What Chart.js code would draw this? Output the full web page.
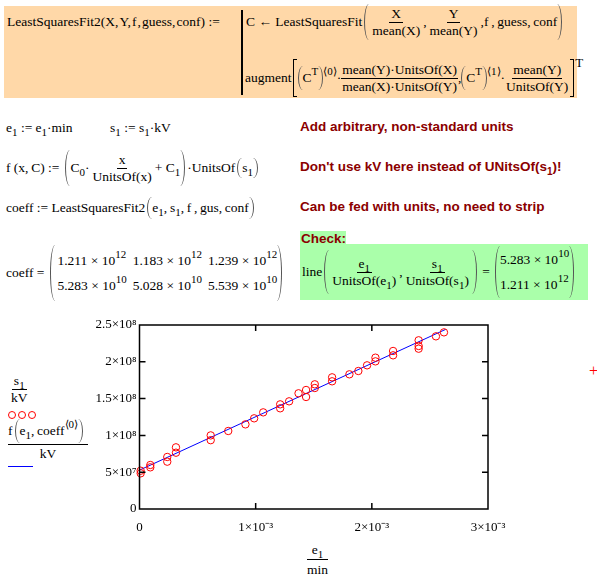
<!DOCTYPE html>
<html>
<head>
<meta charset="utf-8">
<script src="https://cdn.jsdelivr.net/npm/chart.js@4.4.0/dist/chart.umd.min.js"></script>
<style>
  body { margin: 0; width: 597px; height: 582px; background: #fff; position: relative; overflow: hidden;
         font-family: "Liberation Serif", "Times New Roman", serif; font-size: 13.5px; color: #000; }
  .a { position: absolute; white-space: nowrap; line-height: 1; }
  .row { display: flex; align-items: center; }
  .fr { display: inline-flex; flex-direction: column; align-items: center; margin: 0 1px; }
  .fr > span { padding: 0 2px; line-height: 16px; }
  .fr > span:first-child { border-bottom: 1px solid #000; }
  .lp, .rp, .lb, .rb { display: inline-block; width: 5px; box-sizing: border-box; flex: none; }
  .lp { border-left: 1.2px solid #555; border-radius: 100% 0 0 100% / 50% 0 0 50%; margin-left: 2px; }
  .rp { border-right: 1.2px solid #555; border-radius: 0 100% 100% 0 / 0 50% 50% 0; margin-right: 2px; }
  .lb { border: 1.2px solid #000; border-right: none; width: 4px; margin: 0 1px; }
  .rb { border: 1.2px solid #000; border-left: none; width: 4px; margin: 0 1px; }
  .sb { font-size: 11px; position: relative; top: 4px; }
  .sp { font-size: 11px; position: relative; top: -7px; }
  .note { font-family: "Liberation Sans", Arial, sans-serif; font-weight: bold; color: #8b0000; font-size: 13.5px; }
  .mx { display: grid; row-gap: 12px; column-gap: 6px; }
  .ci { display: inline-block; width: 6px; height: 6px; border: 1px solid #f00; border-radius: 50%; margin-right: 2px; }
  .tight .fr { margin: 0; }
  .tight .fr > span { padding: 0 1px; }
</style>
</head>
<body>

<!-- program block -->
<div class="a" style="left:4px;top:6px;width:573px;height:92px;background:#ffd8a8"></div>
<div class="a" style="left:241px;top:10px;width:2px;height:85px;background:#000"></div>
<div class="a" style="left:7px;top:15px">LeastSquaresFit2(X,&hairsp;Y,&hairsp;f&hairsp;,&hairsp;guess,&hairsp;conf) :=</div>
<div class="a row" style="left:246px;top:3px;height:38px">
  C ← LeastSquaresFit<span class="lp" style="height:36px"></span><span class="fr"><span>X</span><span>mean(X)</span></span>,<span class="fr"><span>Y</span><span>mean(Y)</span></span>,f&thinsp;,&thinsp;guess,&thinsp;conf<span class="rp" style="height:36px"></span>
</div>
<div class="a row tight" style="left:245px;top:58px;height:40px">
  augment<span class="lb" style="height:38px"></span><span class="lp" style="height:24px;margin-left:0"></span>C<span class="sp">T</span><span class="rp" style="height:24px;margin-right:0"></span><span class="sp">⟨0⟩</span>·<span class="fr"><span>mean(Y)·UnitsOf(X)</span><span>mean(X)·UnitsOf(Y)</span></span>,<span class="lp" style="height:24px;margin-left:0"></span>C<span class="sp">T</span><span class="rp" style="height:24px;margin-right:0"></span><span class="sp">⟨1⟩</span>·<span class="fr"><span>mean(Y)</span><span>UnitsOf(Y)</span></span><span class="rb" style="height:38px"></span><span class="sp" style="top:-16px;font-size:13px">T</span>
</div>

<!-- definitions -->
<div class="a" style="left:6px;top:121px">e<span class="sb">1</span> := e<span class="sb">1</span>·min</div>
<div class="a" style="left:110px;top:121px">s<span class="sb">1</span> := s<span class="sb">1</span>·kV</div>
<div class="a note" style="left:300px;top:120px">Add arbitrary, non-standard units</div>

<div class="a row" style="left:6px;top:149px;height:38px">
  f (x,&thinsp;C) :=<span class="lp" style="height:36px;margin-left:6px"></span>C<span class="sb">0</span>·<span class="fr"><span>x</span><span>UnitsOf(x)</span></span>+ C<span class="sb">1</span><span class="rp" style="height:36px"></span>·UnitsOf<span class="lp" style="height:20px"></span>s<span class="sb">1</span><span class="rp" style="height:20px"></span>
</div>
<div class="a note" style="left:300px;top:160px">Don't use kV here instead of UNitsOf(s<span class="sb" style="font-size:10px">1</span>)!</div>

<div class="a row" style="left:6px;top:196px;height:24px">
  coeff := LeastSquaresFit2<span class="lp" style="height:22px"></span>e<span class="sb">1</span>,&thinsp;s<span class="sb">1</span>,&thinsp;f&thinsp;,&thinsp;gus,&thinsp;conf<span class="rp" style="height:22px"></span>
</div>
<div class="a note" style="left:300px;top:200px">Can be fed with units, no need to strip</div>

<div class="a row" style="left:6px;top:244px;height:58px">
  coeff =<span class="lp" style="height:56px;margin-left:6px"></span>
  <div class="mx" style="grid-template-columns:auto auto auto;margin-left:2px">
    <span>1.211 × 10<span class="sp">12</span></span><span>1.183 × 10<span class="sp">12</span></span><span>1.239 × 10<span class="sp">12</span></span>
    <span>5.283 × 10<span class="sp">10</span></span><span>5.028 × 10<span class="sp">10</span></span><span>5.539 × 10<span class="sp">10</span></span>
  </div><span class="rp" style="height:56px"></span>
</div>

<!-- check -->
<div class="a" style="left:300px;top:231px;width:46px;height:14px;background:#aaffaa"></div>
<div class="a" style="left:300px;top:244px;width:288px;height:56px;background:#aaffaa"></div>
<div class="a note" style="left:301px;top:232px">Check:</div>
<div class="a row" style="left:302px;top:246px;height:52px">
  line<span class="lp" style="height:44px"></span><span class="fr"><span>e<span class="sb">1</span></span><span>UnitsOf(e<span class="sb">1</span>)</span></span>,<span class="fr"><span>s<span class="sb">1</span></span><span>UnitsOf(s<span class="sb">1</span>)</span></span><span class="rp" style="height:44px"></span>&nbsp;=<span class="lp" style="height:52px;margin-left:5px"></span>
  <div class="mx"><span>5.283 × 10<span class="sp">10</span></span><span>1.211 × 10<span class="sp">12</span></span></div><span class="rp" style="height:52px"></span>
</div>

<!-- plot legend labels -->
<div class="a" style="left:8px;top:373px"><span class="fr"><span>s<span class="sb">1</span></span><span>kV</span></span></div>
<div class="a" style="left:8px;top:408px"><span class="ci"></span><span class="ci"></span><span class="ci"></span></div>
<div class="a" style="left:8px;top:418px">
  <span class="fr" style="margin:0"><span class="row" style="height:26px;padding:0 3px 0 0">f<span class="lp" style="height:24px"></span>e<span class="sb">1</span>,&thinsp;coeff<span class="sp">⟨0⟩</span><span class="rp" style="height:24px"></span></span><span style="line-height:18px">kV</span></span>
</div>
<div class="a" style="left:8px;top:466px;width:25px;height:1px;background:#00f"></div>
<div class="a" style="left:304px;top:541px"><span class="fr"><span style="padding:0 5px;line-height:18px">e<span class="sb">1</span></span><span style="line-height:20px">min</span></span></div>
<div class="a" style="left:589px;top:363px;color:#f00;font-size:16px">+</div>

<canvas id="c" width="520" height="240" style="position:absolute;left:0;top:300px"></canvas>

<script>
// e1 in min, s1 in kV
const e1Min = [1.0e-5, 1.0e-5, 0.093e-3, 0.093e-3, 0.239e-3, 0.239e-3, 0.314e-3, 0.314e-3,
  0.613e-3, 0.613e-3, 0.764e-3, 0.912e-3, 0.987e-3, 1.065e-3, 1.211e-3, 1.211e-3,
  1.288e-3, 1.369e-3, 1.434e-3, 1.434e-3, 1.509e-3, 1.509e-3, 1.658e-3, 1.658e-3,
  1.807e-3, 1.884e-3, 1.959e-3, 2.031e-3, 2.031e-3, 2.183e-3, 2.183e-3, 2.403e-3,
  2.403e-3, 2.403e-3, 2.552e-3, 2.621e-3];
const s1kV = [0.52e8, 0.485e8, 0.598e8, 0.566e8, 0.707e8, 0.643e8, 0.838e8, 0.765e8,
  1.0e8, 0.935e8, 1.06e8, 1.15e8, 1.232e8, 1.313e8, 1.422e8, 1.368e8,
  1.463e8, 1.572e8, 1.617e8, 1.522e8, 1.694e8, 1.644e8, 1.789e8, 1.735e8,
  1.83e8, 1.875e8, 1.952e8, 2.056e8, 2.006e8, 2.147e8, 2.088e8, 2.292e8,
  2.215e8, 2.178e8, 2.346e8, 2.4e8];
// fitted line end points
const fitX = [0, 2.635e-3];
const fitY = [5.28e7, 2.44e8];

const xTicks = [0, 1e-3, 2e-3, 3e-3];
const xTickLabels = ["0", "1×10⁻³", "2×10⁻³", "3×10⁻³"];
const yTicks = [0, 5e7, 1e8, 1.5e8, 2e8, 2.5e8];
const yTickLabels = ["0", "5×10⁷", "1×10⁸", "1.5×10⁸", "2×10⁸", "2.5×10⁸"];

// mathcad style frame with inward ticks on all four sides
const boxTicks = {
  id: "boxTicks",
  afterDatasetsDraw(chart) {
    const { ctx, chartArea: a, scales: { x, y } } = chart;
    ctx.save();
    ctx.strokeStyle = "#000";
    ctx.lineWidth = 1.5;
    ctx.strokeRect(a.left, a.top, a.right - a.left, a.bottom - a.top);
    ctx.beginPath();
    x.ticks.forEach((t) => {
      const px = x.getPixelForValue(t.value);
      if (px <= a.left + 1 || px >= a.right - 1) return;
      ctx.moveTo(px, a.bottom); ctx.lineTo(px, a.bottom - 6);
      ctx.moveTo(px, a.top); ctx.lineTo(px, a.top + 6);
    });
    y.ticks.forEach((t) => {
      const py = y.getPixelForValue(t.value);
      if (py >= a.bottom - 1 || py <= a.top + 1) return;
      ctx.moveTo(a.left, py); ctx.lineTo(a.left + 6, py);
      ctx.moveTo(a.right, py); ctx.lineTo(a.right - 6, py);
    });
    ctx.stroke();
    ctx.restore();
  },
};

const tickFont = { family: "Liberation Serif", size: 13 };

new Chart(document.getElementById("c"), {
  type: "scatter",
  data: {
    datasets: [
      {
        data: e1Min.map((x, i) => ({ x: x, y: s1kV[i] })),
        showLine: false,
        pointStyle: "circle",
        pointRadius: 3.7,
        pointHoverRadius: 3.7,
        borderColor: "#ff0000",
        backgroundColor: "rgba(0,0,0,0)",
        borderWidth: 1,
        clip: false,
      },
      {
        data: fitX.map((x, i) => ({ x: x, y: fitY[i] })),
        showLine: true,
        borderColor: "#0000ff",
        borderWidth: 1,
        pointRadius: 0,
      },
    ],
  },
  options: {
    responsive: false,
    animation: false,
    events: [],
    layout: { padding: { top: 25, right: 32, left: 0, bottom: 0 } },
    plugins: { legend: { display: false }, tooltip: { enabled: false } },
    scales: {
      x: {
        type: "linear",
        min: 0,
        max: 3e-3,
        grid: { display: false, drawTicks: false },
        border: { display: false },
        afterBuildTicks: (s) => { s.ticks = xTicks.map((v) => ({ value: v })); },
        afterFit: (s) => { s.height = 31; },
        ticks: {
          padding: 11,
          maxRotation: 0,
          autoSkip: false,
          color: "#000",
          font: tickFont,
          callback: (v, i) => xTickLabels[i],
        },
      },
      y: {
        type: "linear",
        min: 0,
        max: 2.5e8,
        grid: { display: false, drawTicks: false },
        border: { display: false },
        afterBuildTicks: (s) => { s.ticks = yTicks.map((v) => ({ value: v })); },
        afterFit: (s) => { s.width = 139.5; },
        ticks: {
          padding: 3,
          autoSkip: false,
          color: "#000",
          font: tickFont,
          callback: (v, i) => yTickLabels[i],
        },
      },
    },
  },
  plugins: [boxTicks],
});
</script>
</body>
</html>
